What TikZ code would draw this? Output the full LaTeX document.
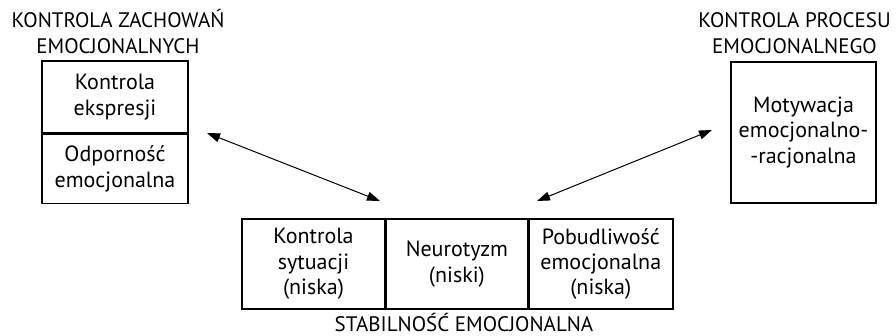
\documentclass[tikz,border=0pt]{standalone}
\usepackage{fontspec}
\setmainfont{PT Sans}
\usetikzlibrary{positioning}
\usetikzlibrary{arrows.meta,shapes}

\tikzset{
  cell/.style={draw,line width=1.4pt,align=center,inner sep=0pt,
    font=\fontsize{22}{25.5}\selectfont},
  heading/.style={align=center,inner sep=0pt,
    font=\fontsize{21}{26}\selectfont},
  link/.style={line width=1pt,{Triangle[length=13pt,width=9pt]}-{Triangle[length=13pt,width=9pt]}}
}

\begin{document}
\begin{tikzpicture}[x=1pt,y=-1pt,node distance=0pt]
\useasboundingbox (0,0) rectangle (896,336);
  % left block
  \node[cell,minimum width=146,minimum height=72] (ekspr) at (115,97) {Kontrola\\ekspresji};
  \node[cell,minimum width=146,minimum height=69] (odpor) [below=of ekspr] {Odporność\\emocjonalna};
  \node[heading] (zach) [above=6pt of ekspr,xshift=3pt] {KONTROLA ZACHOWAŃ\\EMOCJONALNYCH};
  % right block
  \node[cell,minimum width=145,minimum height=141] (motyw) at (803.5,132.5) {Motywacja\\emocjonalno-\\-racjonalna};
  \node[heading] (proces) [above=7pt of motyw,xshift=-9pt] {KONTROLA PROCESU\\EMOCJONALNEGO};
  % bottom block
  \node[cell,minimum width=143,minimum height=90] (sytuac) at (313.5,264) {Kontrola\\sytuacji\\(niska)};
  \node[cell,minimum width=141,minimum height=90] (neuro) [right=of sytuac] {Neurotyzm\\(niski)};
  \node[cell,minimum width=144,minimum height=90] (pobud) [right=of neuro] {Pobudliwość\\emocjonalna\\(niska)};
  \node[heading,anchor=base] (stab) at (464,331.5) {STABILNOŚĆ EMOCJONALNA};
  % arrows
  \coordinate (lewy) at (207,133);
  \coordinate (srodL) at (380,201);
  \coordinate (srodP) at (537,201);
  \coordinate (prawy) at (712,130);
  \draw[link] (lewy) -- (srodL);
  \draw[link] (srodP) -- (prawy);
\end{tikzpicture}
\end{document}
